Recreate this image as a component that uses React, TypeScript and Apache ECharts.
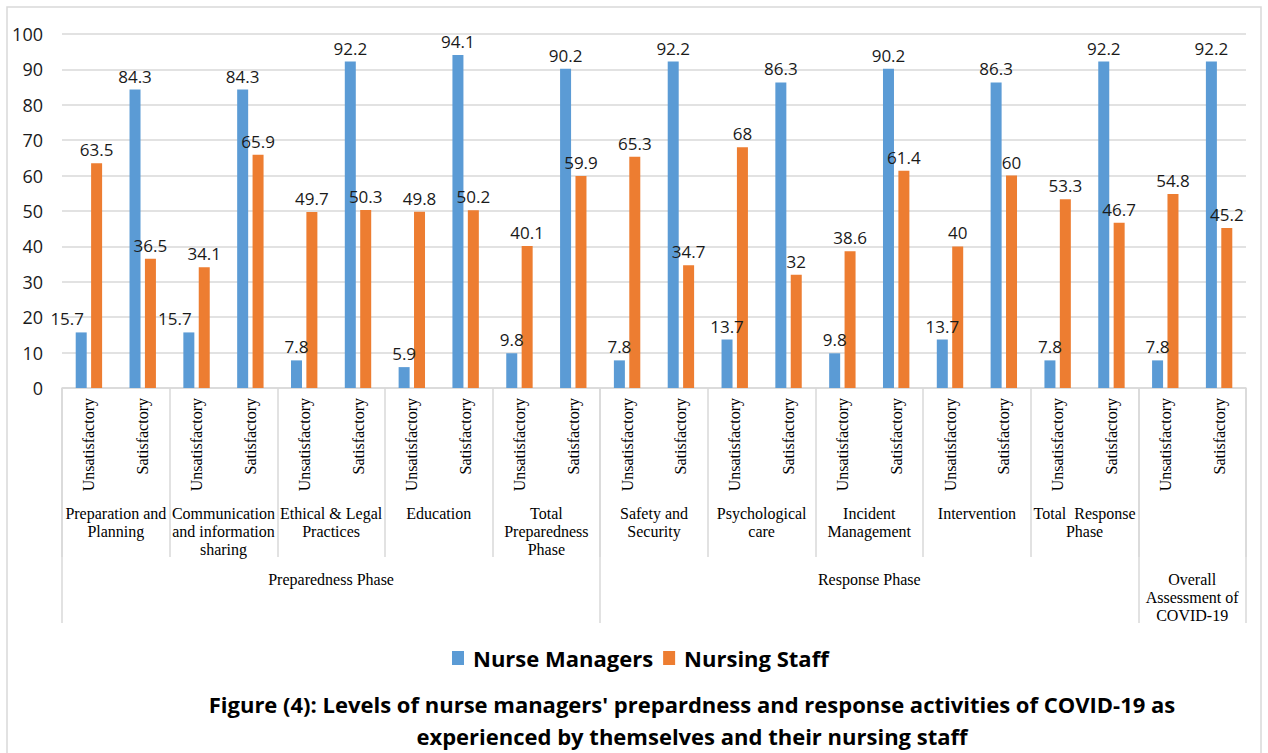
import React, { useEffect, useRef } from "react";
import * as echarts from "echarts";

// ---- data ----
const levels = ["Unsatisfactory", "Satisfactory"];
const groups = [
  "Preparation and\nPlanning",
  "Communication\nand information\nsharing",
  "Ethical & Legal\nPractices",
  "Education",
  "Total\nPreparedness\nPhase",
  "Safety and\nSecurity",
  "Psychological\ncare",
  "Incident\nManagement",
  "Intervention",
  "Total  Response\nPhase",
  "",
];
const phases = ["Preparedness Phase", "Response Phase", "Overall\nAssessment of\nCOVID-19"];
const phaseSpans = [10, 10, 2];
const nurseManagers = [15.7, 84.3, 15.7, 84.3, 7.8, 92.2, 5.9, 94.1, 9.8, 90.2, 7.8, 92.2, 13.7, 86.3, 9.8, 90.2, 13.7, 86.3, 7.8, 92.2, 7.8, 92.2];
const nursingStaff = [63.5, 36.5, 34.1, 65.9, 49.7, 50.3, 49.8, 50.2, 40.1, 59.9, 65.3, 34.7, 68, 32, 38.6, 61.4, 40, 60, 53.3, 46.7, 54.8, 45.2];
const yTicks = { min: 0, max: 100, interval: 10 };
const captionLines = [
  "Figure (4): Levels of nurse managers' prepardness and response activities of COVID-19 as",
  "experienced by themselves and their nursing staff",
];

// style tweaks (label nudges, not data)
const nmLabelShift: Record<number, number> = { 0: -14, 2: -14 };

const categories = groups.flatMap(() => levels);
const totalCats = categories.length;
const phaseAxisData: string[] = new Array(totalCats + 1).fill("");
const phaseBoundaries: number[] = [0];
{
  let s = 0;
  phases.forEach((p, i) => {
    phaseAxisData[s + phaseSpans[i] / 2] = p;
    s += phaseSpans[i];
    phaseBoundaries.push(s);
  });
}

const GRAY = "#d9d9d9";
const SERIF = "'Liberation Serif', 'Times New Roman', serif";
const SANS = "'Open Sans', 'Noto Sans', sans-serif";

export default function App() {
  const ref = useRef<HTMLDivElement>(null);
  useEffect(() => {
    if (!ref.current) return;
    const chart = echarts.init(ref.current, null, { renderer: "svg" });
    const labelBase = {
      show: true,
      position: "top" as const,
      distance: 5,
      fontFamily: SANS,
      fontSize: 17,
      color: "#1a1a1a",
    };
    chart.setOption({
      animation: false,
      backgroundColor: "#ffffff",
      grid: { left: 62, right: 22, top: 34, bottom: 365, containLabel: false },
      legend: {
        left: 452,
        top: 647,
        padding: 0,
        itemWidth: 12,
        itemHeight: 14,
        itemGap: 10,
        icon: "rect",
        textStyle: { fontFamily: SANS, fontWeight: "bold", fontSize: 22, color: "#000", padding: [0, 0, 0, 4] },
        data: ["Nurse Managers", "Nursing Staff"],
      },
      xAxis: [
        {
          type: "category",
          data: categories,
          position: "bottom",
          axisLine: { show: true, lineStyle: { color: GRAY, width: 1.5 } },
          axisTick: { show: false },
          axisLabel: {
            interval: 0,
            rotate: 90,
            margin: 10,
            fontFamily: SERIF,
            fontSize: 16,
            color: "#000",
          },
        },
        {
          type: "category",
          data: groups,
          position: "bottom",
          axisLine: { show: false },
          axisTick: { show: true, interval: 0, length: 169, lineStyle: { color: GRAY, width: 1.5 } },
          axisLabel: {
            interval: 0,
            margin: 116,
            verticalAlign: "top",
            lineHeight: 18,
            fontFamily: SERIF,
            fontSize: 16,
            color: "#000",
            align: "center",
          },
        },
        {
          type: "category",
          data: phaseAxisData,
          boundaryGap: false,
          position: "bottom",
          axisLine: { show: false },
          axisTick: {
            show: true,
            interval: (i: number) => phaseBoundaries.includes(i),
            length: 235,
            lineStyle: { color: GRAY, width: 1.5 },
          },
          axisLabel: {
            interval: 0,
            margin: 182,
            verticalAlign: "top",
            lineHeight: 18,
            fontFamily: SERIF,
            fontSize: 16,
            color: "#000",
            align: "center",
          },
        },
      ],
      yAxis: {
        type: "value",
        min: yTicks.min,
        max: yTicks.max,
        interval: yTicks.interval,
        axisLine: { show: false },
        axisTick: { show: false },
        splitLine: { lineStyle: { color: GRAY, width: 1.5 } },
        axisLabel: { margin: 19, fontFamily: SANS, fontSize: 18, color: "#1a1a1a" },
      },
      series: [
        {
          name: "Nurse Managers",
          type: "bar",
          xAxisIndex: 0,
          barWidth: 11,
          barGap: "40%",
          itemStyle: { color: "#5B9BD5" },
          label: labelBase,
          data: nurseManagers.map((v, i) =>
            nmLabelShift[i] !== undefined ? { value: v, label: { offset: [nmLabelShift[i], 0] } } : v
          ),
        },
        {
          name: "Nursing Staff",
          type: "bar",
          xAxisIndex: 0,
          barWidth: 11,
          barGap: "40%",
          itemStyle: { color: "#ED7D31" },
          label: labelBase,
          data: nursingStaff,
        },
      ],
      graphic: [
        {
          type: "rect",
          shape: { x: 7, y: 7, width: 1254, height: 800 },
          style: { fill: "none", stroke: GRAY, lineWidth: 1.5 },
          silent: true,
        },
        {
          type: "text",
          x: 692,
          y: 688,
          style: {
            text: captionLines.join("\n"),
            fontFamily: SANS,
            fontWeight: "bold",
            fontSize: 22,
            lineHeight: 32,
            fill: "#000",
            align: "center",
            textAlign: "center",
            verticalAlign: "top",
            textVerticalAlign: "top",
          },
        },
      ],
    });
    return () => chart.dispose();
  }, []);
  return (
    <div
      ref={ref}
      style={{ position: "fixed", left: 0, top: 0, width: 1268, height: 753, background: "#fff" }}
    />
  );
}
